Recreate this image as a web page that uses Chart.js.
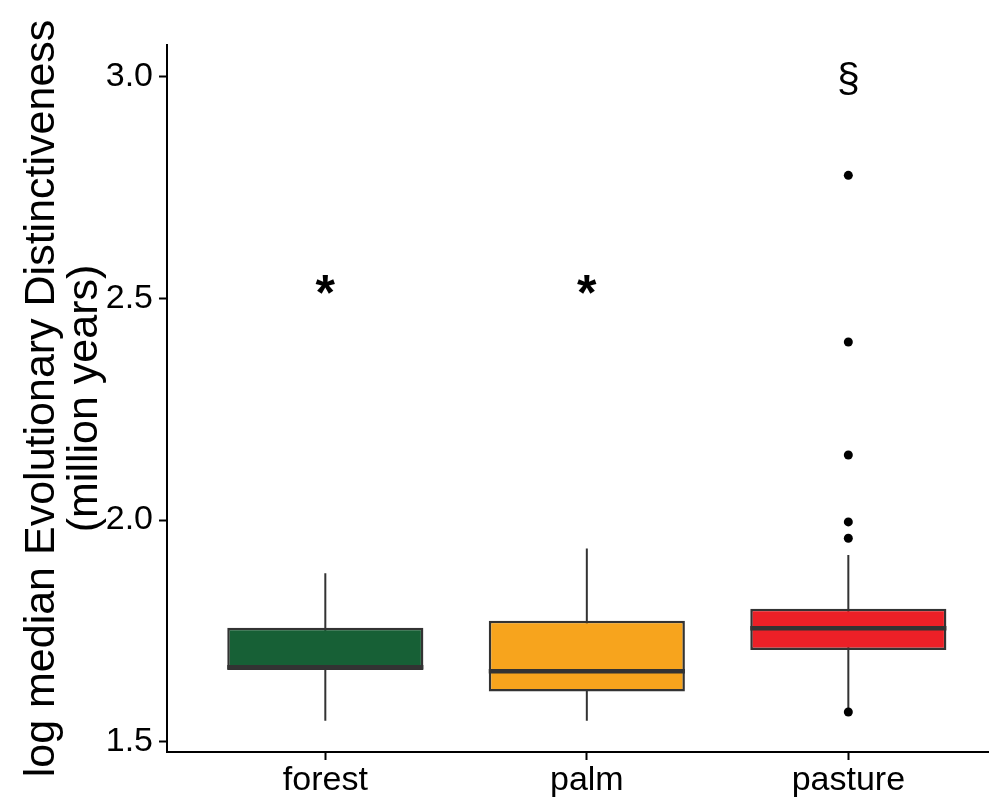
<!DOCTYPE html>
<html><head><meta charset="utf-8">
<script src="https://cdn.jsdelivr.net/npm/chart.js@4"></script>
<style>html,body{margin:0;padding:0;background:#fff;}#wrap{width:993px;height:806px;}</style>
</head><body><div id="wrap"><canvas id="c" width="993" height="806"></canvas></div>
<script>
const categories = ['forest', 'palm', 'pasture'];
const whiskerLow = [1.547, 1.547, 1.572];
const q1 = [1.662, 1.613, 1.707];
const median = [1.668, 1.659, 1.756];
const q3 = [1.757, 1.773, 1.800];
const whiskerHigh = [1.880, 1.936, 1.921];
const outlierCategory = ['pasture', 'pasture', 'pasture', 'pasture', 'pasture', 'pasture'];
const outlierValues = [1.567, 1.959, 1.996, 2.147, 2.402, 2.778];
const annotationLabels = ['*', '*', '§'];
const annotationValues = [2.5, 2.5, 3.0];
const yTicks = [1.5, 2.0, 2.5, 3.0];
const yTitle = ['log median Evolutionary Distinctiveness', '(million years)'];
const boxColors = ['#176036', '#F7A41D', '#EC2027'];

const FONT = '"Liberation Sans", Arial, Helvetica, sans-serif';
Chart.defaults.font.family = FONT;
Chart.defaults.color = '#000';

const pos = c => categories.indexOf(c) + 1;

const extras = {
  id: 'extras',
  afterDatasetsDraw(chart) {
    const ctx = chart.ctx, xs = chart.scales.x, ys = chart.scales.y;
    const boxMeta = chart.getDatasetMeta(1);
    ctx.save();
    ctx.strokeStyle = '#333333';
    ctx.lineWidth = 4.5;
    boxMeta.data.forEach((bar, i) => {
      const y = ys.getPixelForValue(median[i]);
      const half = bar.width / 2;
      ctx.beginPath();
      ctx.moveTo(bar.x - half, y);
      ctx.lineTo(bar.x + half, y);
      ctx.stroke();
    });
    ctx.fillStyle = '#000';
    ctx.textAlign = 'center';
    ctx.textBaseline = 'middle';
    annotationLabels.forEach((t, i) => {
      const isStar = t === '*';
      ctx.font = (isStar ? 'bold 50px ' : '41px ') + FONT;
      const dy = isStar ? -2 : 4;
      ctx.fillText(t, xs.getPixelForValue(i + 1), ys.getPixelForValue(annotationValues[i]) + dy);
    });
    ctx.restore();
  },
  afterDraw(chart) {
    const ctx = chart.ctx, a = chart.chartArea;
    ctx.save();
    ctx.translate(42.5, (a.top + a.bottom) / 2);
    ctx.rotate(-Math.PI / 2);
    ctx.font = '43px ' + FONT;
    ctx.fillStyle = '#000';
    ctx.textAlign = 'center';
    ctx.textBaseline = 'middle';
    yTitle.forEach((line, i) => ctx.fillText(line, 0, i * 43));
    ctx.restore();
  }
};

new Chart(document.getElementById('c'), {
  type: 'bar',
  data: {
    datasets: [
      {
        label: 'whiskers',
        data: categories.map((c, i) => ({ x: pos(c), y: [whiskerLow[i], whiskerHigh[i]] })),
        backgroundColor: '#333333',
        borderWidth: 0,
        maxBarThickness: 2,
        grouped: false,
        order: 3
      },
      {
        label: 'boxes',
        data: categories.map((c, i) => ({ x: pos(c), y: [q1[i], q3[i]] })),
        backgroundColor: boxColors,
        borderColor: '#333333',
        borderWidth: 2.5,
        borderSkipped: false,
        grouped: false,
        categoryPercentage: 1,
        barPercentage: 0.75,
        order: 2
      },
      {
        type: 'scatter',
        label: 'outliers',
        data: outlierValues.map((v, i) => ({ x: pos(outlierCategory[i]), y: v })),
        backgroundColor: '#000',
        borderWidth: 0,
        pointRadius: 4.5,
        order: 1
      }
    ]
  },
  options: {
    responsive: false,
    animation: false,
    devicePixelRatio: 1,
    layout: { padding: { top: 45, left: 0, right: 0, bottom: 0 } },
    plugins: { legend: { display: false }, tooltip: { enabled: false } },
    scales: {
      x: {
        type: 'linear',
        offset: false,
        min: 0.3946,
        max: 3.536,
        afterBuildTicks: s => { s.ticks = categories.map(c => ({ value: pos(c) })); },
        afterFit: s => { s.height = 54; },
        ticks: {
          callback: (v, i) => categories[i],
          font: { size: 34 },
          color: '#000',
          padding: 0,
          maxRotation: 0,
          autoSkip: false
        },
        grid: { offset: false, drawOnChartArea: false, drawTicks: true, tickLength: 8, tickWidth: 2, tickColor: '#000' },
        border: { display: true, color: '#000', width: 2 }
      },
      y: {
        type: 'linear',
        min: 1.4767,
        max: 3.0722,
        afterBuildTicks: s => { s.ticks = yTicks.map(v => ({ value: v })); },
        afterFit: s => { s.width = 167; },
        ticks: {
          callback: v => Number(v).toFixed(1),
          font: { size: 34 },
          color: '#000',
          padding: 6
        },
        grid: { drawOnChartArea: false, drawTicks: true, tickLength: 8, tickWidth: 2, tickColor: '#000' },
        border: { display: true, color: '#000', width: 2 }
      }
    }
  },
  plugins: [extras]
});
</script>
</body></html>
